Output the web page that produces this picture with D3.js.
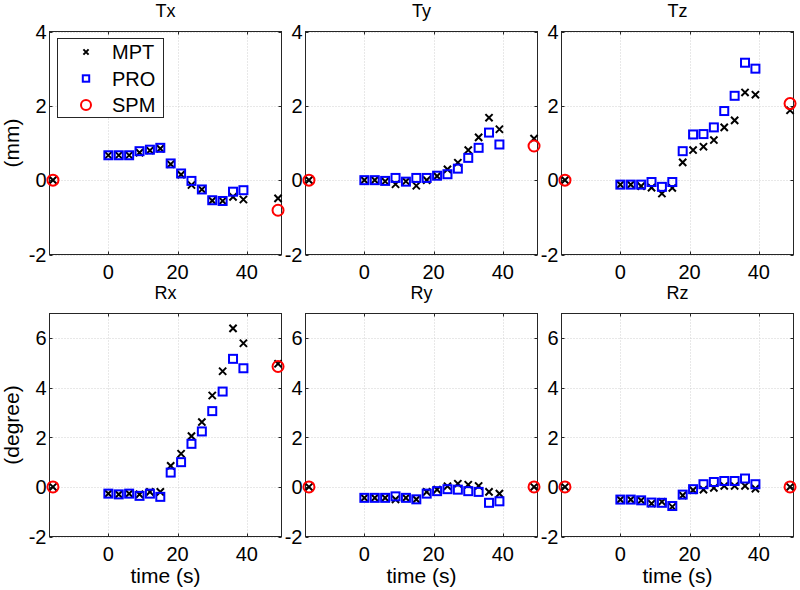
<!DOCTYPE html>
<html>
<head>
<meta charset="utf-8">
<script src="https://cdn.jsdelivr.net/npm/d3@7"></script>
<style>
  body { margin: 0; background: #fff; }
  text { font-family: "Liberation Sans", Arial, sans-serif; fill: #000; }
</style>
</head>
<body>
<div id="chart"></div>
<script>
// sample times (s); edge points are the SPM reference positions
const times = [0, 3, 6, 9, 12, 15, 18, 21, 24, 27, 30, 33, 36, 39];
const edgeTimes = [-16, 49];
const xTicks = [0, 20, 40];
const yTicksT = [-2, 0, 2, 4];
const yTicksR = [-2, 0, 2, 4, 6];

// translations (mm)
const txMPT = [0, 0.67, 0.67, 0.67, 0.74, 0.80, 0.85, 0.43, 0.15, -0.13, -0.25, -0.55, -0.56, -0.45, -0.52, -0.49];
const txPRO = [0.67, 0.67, 0.67, 0.78, 0.82, 0.87, 0.45, 0.18, -0.02, -0.25, -0.54, -0.56, -0.31, -0.27];
const txSPM = [0, -0.81];
const tyMPT = [0, 0, 0, -0.03, -0.11, -0.03, -0.15, 0, 0.11, 0.29, 0.47, 0.81, 1.15, 1.68, 1.37, 1.12];
const tyPRO = [0, 0, -0.02, 0.06, -0.04, 0.06, 0.06, 0.12, 0.16, 0.31, 0.60, 0.87, 1.28, 0.96];
const tySPM = [0, 0.92];
const tzMPT = [0, -0.12, -0.12, -0.16, -0.20, -0.36, -0.21, 0.48, 0.81, 0.90, 1.08, 1.42, 1.61, 2.36, 2.30, 1.88];
const tzPRO = [-0.12, -0.12, -0.12, -0.05, -0.18, -0.05, 0.78, 1.23, 1.24, 1.42, 1.86, 2.27, 3.16, 3.00];
const tzSPM = [0, 2.06];

// rotations (degree)
const rxMPT = [0, -0.27, -0.30, -0.27, -0.30, -0.20, -0.20, 0.85, 1.34, 2.05, 2.62, 3.69, 4.67, 6.40, 5.80, 4.97];
const rxPRO = [-0.27, -0.30, -0.27, -0.36, -0.27, -0.40, 0.58, 1.00, 1.74, 2.24, 3.06, 3.85, 5.17, 4.79];
const rxSPM = [0, 4.86];
const ryMPT = [0, -0.44, -0.44, -0.44, -0.50, -0.44, -0.50, -0.20, -0.11, 0.03, 0.13, 0.09, 0.04, -0.20, -0.27, 0];
const ryPRO = [-0.44, -0.44, -0.44, -0.38, -0.44, -0.50, -0.27, -0.17, -0.09, -0.11, -0.17, -0.20, -0.64, -0.58];
const rySPM = [0, 0];
const rzMPT = [0, -0.51, -0.51, -0.54, -0.67, -0.60, -0.80, -0.34, -0.13, -0.11, -0.04, 0.04, 0.04, 0.04, -0.07, 0];
const rzPRO = [-0.51, -0.51, -0.54, -0.63, -0.64, -0.77, -0.31, -0.09, 0.11, 0.20, 0.24, 0.24, 0.34, 0.11];
const rzSPM = [0, 0];

const panels = [
  { title: "Tx", mpt: txMPT, pro: txPRO, spm: txSPM, row: 0, col: 0 },
  { title: "Ty", mpt: tyMPT, pro: tyPRO, spm: tySPM, row: 0, col: 1 },
  { title: "Tz", mpt: tzMPT, pro: tzPRO, spm: tzSPM, row: 0, col: 2 },
  { title: "Rx", mpt: rxMPT, pro: rxPRO, spm: rxSPM, row: 1, col: 0 },
  { title: "Ry", mpt: ryMPT, pro: ryPRO, spm: rySPM, row: 1, col: 1 },
  { title: "Rz", mpt: rzMPT, pro: rzPRO, spm: rzSPM, row: 1, col: 2 },
];

const width = 800, height = 590;
const W = 232, H = 223;
const colX = [49.5, 305.5, 561.5];
const rowY = [31.5, 313.5];
const mptTimes = [edgeTimes[0], ...times, edgeTimes[1]];

const svg = d3.select("#chart")
    .append("svg")
    .attr("width", width)
    .attr("height", height);

panels.forEach(drawPanel);
drawLegend();

function drawPanel(p) {
    const x0 = colX[p.col], y0 = rowY[p.row];
    const yTicks = p.row === 0 ? yTicksT : yTicksR;
    const x = d3.scaleLinear().domain([-17, 50]).range([x0, x0 + W]);
    const y = d3.scaleLinear().domain(p.row === 0 ? [-2, 4] : [-2, 7]).range([y0 + H, y0]);
    const g = svg.append("g");

    g.append("rect")
        .attr("x", x0).attr("y", y0).attr("width", W).attr("height", H)
        .attr("fill", "#fff");

    // dotted grid
    g.selectAll(".vgrid").data(xTicks).join("line")
        .attr("x1", d => Math.round(x(d)) + 0.5).attr("x2", d => Math.round(x(d)) + 0.5)
        .attr("y1", y0).attr("y2", y0 + H)
        .attr("stroke", "#d0d0d0").attr("stroke-dasharray", "1,2");
    g.selectAll(".hgrid").data(yTicks).join("line")
        .attr("x1", x0).attr("x2", x0 + W)
        .attr("y1", d => Math.round(y(d)) + 0.5).attr("y2", d => Math.round(y(d)) + 0.5)
        .attr("stroke", "#d0d0d0").attr("stroke-dasharray", "1,2");

    // inward ticks on all four sides
    const tl = 3;
    xTicks.forEach(t => {
        const xx = Math.round(x(t)) + 0.5;
        g.append("line").attr("x1", xx).attr("x2", xx).attr("y1", y0 + H).attr("y2", y0 + H - tl).attr("stroke", "#262626");
        g.append("line").attr("x1", xx).attr("x2", xx).attr("y1", y0).attr("y2", y0 + tl).attr("stroke", "#262626");
    });
    yTicks.forEach(t => {
        const yy = Math.round(y(t)) + 0.5;
        g.append("line").attr("x1", x0).attr("x2", x0 + tl).attr("y1", yy).attr("y2", yy).attr("stroke", "#262626");
        g.append("line").attr("x1", x0 + W).attr("x2", x0 + W - tl).attr("y1", yy).attr("y2", yy).attr("stroke", "#262626");
    });

    g.append("rect")
        .attr("x", x0).attr("y", y0).attr("width", W).attr("height", H)
        .attr("fill", "none").attr("stroke", "#262626");

    // tick labels
    g.selectAll(".xl").data(xTicks).join("text")
        .attr("x", d => x(d)).attr("y", y0 + H + 24)
        .attr("text-anchor", "middle").attr("font-size", 20)
        .text(d => d);
    g.selectAll(".yl").data(yTicks).join("text")
        .attr("x", x0 - 3).attr("y", d => y(d)).attr("dy", "0.36em")
        .attr("text-anchor", "end").attr("font-size", 20)
        .text(d => d);

    g.append("text")
        .attr("x", x0 + W / 2).attr("y", y0 - 15)
        .attr("text-anchor", "middle").attr("font-size", 18)
        .text(p.title);

    if (p.row === 1) {
        g.append("text")
            .attr("x", x0 + W / 2).attr("y", y0 + H + 46)
            .attr("text-anchor", "middle").attr("font-size", 21)
            .text("time (s)");
    }
    if (p.col === 0) {
        g.append("text")
            .attr("transform", `translate(19, ${y0 + H / 2}) rotate(-90)`)
            .attr("text-anchor", "middle").attr("font-size", 21)
            .text(p.row === 0 ? "(mm)" : "(degree)");
    }

    // markers
    const mpt = p.mpt.map((v, i) => [mptTimes[i], v]);
    const pro = p.pro.map((v, i) => [times[i], v]);
    const spm = p.spm.map((v, i) => [edgeTimes[i], v]);

    g.selectAll(".mpt").data(mpt).join("path")
        .attr("transform", d => `translate(${x(d[0])}, ${y(d[1])})`)
        .attr("d", crossPath(3.6))
        .attr("stroke", "#000").attr("stroke-width", 2).attr("fill", "none");
    g.selectAll(".pro").data(pro).join("rect")
        .attr("x", d => x(d[0]) - 4).attr("y", d => y(d[1]) - 4)
        .attr("width", 8).attr("height", 8)
        .attr("stroke", "#0000ff").attr("stroke-width", 2).attr("fill", "none");
    g.selectAll(".spm").data(spm).join("circle")
        .attr("cx", d => x(d[0])).attr("cy", d => y(d[1])).attr("r", 5.5)
        .attr("stroke", "#ff0000").attr("stroke-width", 2).attr("fill", "none");
}

function crossPath(s) {
    return `M${-s},${-s}L${s},${s}M${-s},${s}L${s},${-s}`;
}

function drawLegend() {
    const lg = svg.append("g");
    lg.append("rect")
        .attr("x", 57.5).attr("y", 38.5).attr("width", 106).attr("height", 79)
        .attr("fill", "#fff").attr("stroke", "#262626");
    const rows = [
        { label: "MPT", y: 52 },
        { label: "PRO", y: 78.5 },
        { label: "SPM", y: 105 },
    ];
    lg.selectAll("text").data(rows).join("text")
        .attr("x", 112).attr("y", d => d.y).attr("dy", "0.36em")
        .attr("font-size", 20).text(d => d.label);
    lg.append("path")
        .attr("transform", `translate(86, ${rows[0].y})`)
        .attr("d", crossPath(2.6))
        .attr("stroke", "#000").attr("stroke-width", 2).attr("fill", "none");
    lg.append("rect")
        .attr("x", 86 - 3.2).attr("y", rows[1].y - 3.2).attr("width", 6.4).attr("height", 6.4)
        .attr("stroke", "#0000ff").attr("stroke-width", 2).attr("fill", "none");
    lg.append("circle")
        .attr("cx", 86).attr("cy", rows[2].y).attr("r", 5)
        .attr("stroke", "#ff0000").attr("stroke-width", 2).attr("fill", "none");
}
</script>
</body>
</html>
